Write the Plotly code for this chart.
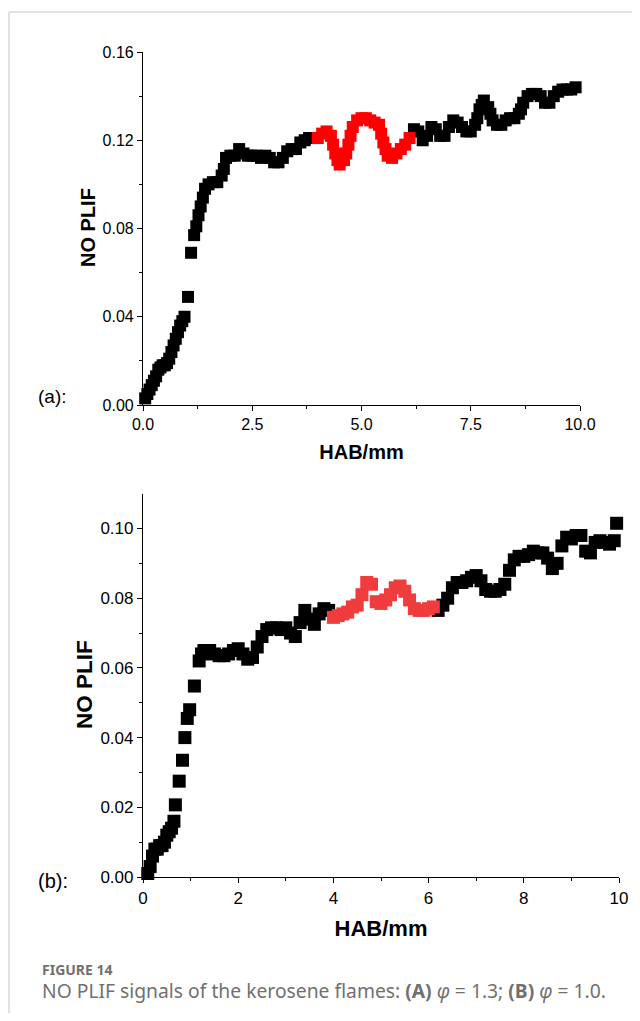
import plotly.graph_objects as go

# ---------------- data ----------------
# (a) phi = 1.3
hab_a = [0.05, 0.1, 0.15, 0.2, 0.25, 0.3, 0.35, 0.4, 0.45, 0.5, 0.55, 0.6, 0.65, 0.7, 0.75, 0.8,
         0.85, 0.9, 0.95, 1.03, 1.1, 1.17, 1.22, 1.27, 1.32, 1.37, 1.42, 1.5, 1.6, 1.7, 1.8, 1.85,
         1.9, 2.0, 2.1, 2.2, 2.3, 2.4, 2.5, 2.6, 2.7, 2.8, 2.9, 3.0, 3.1, 3.2, 3.3, 3.4, 3.5, 3.6,
         3.7, 3.8, 3.9,
         4.0, 4.1, 4.2, 4.3, 4.35, 4.4, 4.45, 4.5, 4.6, 4.65, 4.7, 4.75, 4.8, 4.9, 5.0, 5.1, 5.2,
         5.3, 5.4, 5.45, 5.5, 5.55, 5.6, 5.7, 5.8, 5.9, 6.0, 6.1,
         6.2, 6.3, 6.4, 6.5, 6.6, 6.7, 6.8, 6.9, 7.0, 7.1, 7.2, 7.3, 7.4, 7.5, 7.6, 7.65, 7.7,
         7.75, 7.8, 7.9, 7.95, 8.0, 8.1, 8.2, 8.3, 8.4, 8.5, 8.6, 8.65, 8.7, 8.8, 8.9, 9.0, 9.1,
         9.2, 9.3, 9.4, 9.5, 9.6, 9.7, 9.8, 9.9]
noplif_a = [0.003, 0.005, 0.007, 0.009, 0.011, 0.013, 0.016, 0.017, 0.018, 0.018, 0.019, 0.021,
            0.024, 0.027, 0.030, 0.033, 0.036, 0.038, 0.040, 0.049, 0.069, 0.077, 0.081, 0.086,
            0.090, 0.094, 0.098, 0.100, 0.101, 0.101, 0.104, 0.107, 0.112, 0.113, 0.113, 0.116,
            0.114, 0.113, 0.113, 0.113, 0.112, 0.113, 0.112, 0.110, 0.110, 0.112, 0.115, 0.116,
            0.116, 0.119, 0.120, 0.121, 0.121,
            0.121, 0.123, 0.124, 0.122, 0.118, 0.114, 0.111, 0.109, 0.111, 0.114, 0.118, 0.122,
            0.126, 0.129, 0.130, 0.130, 0.129, 0.128, 0.127, 0.123, 0.119, 0.116, 0.113, 0.112,
            0.114, 0.116, 0.118, 0.121,
            0.125, 0.124, 0.120, 0.122, 0.126, 0.125, 0.122, 0.122, 0.126, 0.129, 0.128, 0.126,
            0.124, 0.124, 0.127, 0.130, 0.134, 0.136, 0.138, 0.135, 0.132, 0.129, 0.127, 0.127,
            0.129, 0.130, 0.130, 0.132, 0.134, 0.137, 0.140, 0.141, 0.141, 0.140, 0.137, 0.137,
            0.140, 0.142, 0.143, 0.143, 0.143, 0.144]

# (b) phi = 1.0
hab_b = [0.1, 0.15, 0.2, 0.25, 0.3, 0.35, 0.4, 0.45, 0.5, 0.55, 0.6, 0.65, 0.68, 0.76, 0.83,
         0.88, 0.93, 0.98, 1.08, 1.18, 1.23, 1.28, 1.35, 1.4, 1.5, 1.6, 1.7, 1.8, 1.9, 2.0, 2.1,
         2.2, 2.3, 2.4, 2.5, 2.6, 2.7, 2.8, 2.9, 3.0, 3.1, 3.2, 3.3, 3.4, 3.5, 3.6, 3.7, 3.8, 3.9,
         4.0, 4.1, 4.2, 4.3, 4.4, 4.5, 4.6, 4.7, 4.8, 4.9, 5.0, 5.1, 5.2, 5.3, 5.4, 5.5, 5.6, 5.7,
         5.8, 5.9, 6.0, 6.1,
         6.2, 6.3, 6.4, 6.5, 6.6, 6.7, 6.8, 6.9, 7.0, 7.1, 7.2, 7.3, 7.4, 7.5, 7.6, 7.7, 7.8, 7.9,
         8.0, 8.1, 8.2, 8.3, 8.4, 8.5, 8.6, 8.7, 8.8, 8.9, 9.0, 9.1, 9.2, 9.3, 9.4, 9.5, 9.6, 9.7,
         9.8, 9.9, 9.95]
noplif_b = [0.001, 0.003, 0.006, 0.008, 0.008, 0.009, 0.009, 0.010, 0.012, 0.013, 0.014, 0.016,
            0.0207, 0.0275, 0.0335, 0.040, 0.0455, 0.048, 0.0548, 0.062, 0.064, 0.065, 0.065,
            0.065, 0.064, 0.0635, 0.0635, 0.064, 0.065, 0.0655, 0.064, 0.0625, 0.063, 0.066,
            0.069, 0.071, 0.0715, 0.0715, 0.071, 0.0715, 0.070, 0.069, 0.073, 0.0765, 0.074,
            0.0725, 0.0755, 0.077, 0.0765,
            0.0745, 0.075, 0.0755, 0.076, 0.0775, 0.078, 0.081, 0.0845, 0.084, 0.079, 0.0785,
            0.0795, 0.081, 0.083, 0.0835, 0.082, 0.0795, 0.077, 0.0765, 0.0765, 0.077, 0.0775,
            0.0765, 0.078, 0.080, 0.083, 0.0845, 0.0845, 0.085, 0.086, 0.0865, 0.085, 0.0825,
            0.082, 0.082, 0.0825, 0.084, 0.088, 0.091, 0.092, 0.092, 0.0925, 0.0935, 0.093,
            0.093, 0.0915, 0.0885, 0.090, 0.095, 0.0975, 0.097, 0.098, 0.098, 0.0935, 0.093,
            0.096, 0.0965, 0.096, 0.0955, 0.0965, 0.1015]

red_range = [3.95, 6.15]   # HAB window highlighted in red

# ---------------- figure ----------------
OFF = 8                      # default page margin of the html body
W, H = 640 - 2 * OFF, 1021 - 2 * OFF
M = 10                       # plotly margin on every side
IW, IH = W - 2 * M, H - 2 * M
FONT = "Liberation Sans, Arial, sans-serif"


def split(xs, ys):
    lo, hi = red_range
    b1 = [(x, y) for x, y in zip(xs, ys) if x < lo]
    r = [(x, y) for x, y in zip(xs, ys) if lo <= x <= hi]
    b2 = [(x, y) for x, y in zip(xs, ys) if x > hi]
    return b1, r, b2


fig = go.Figure()


def add_series(xs, ys, xa, ya, red_color, msize):
    b1, r, b2 = split(xs, ys)
    for pts, col in ((b1, "black"), (b2, "black"), (r, red_color)):
        fig.add_trace(go.Scatter(
            x=[p[0] for p in pts], y=[p[1] for p in pts], xaxis=xa, yaxis=ya,
            mode="markers", cliponaxis=False, showlegend=False, hoverinfo="x+y",
            marker=dict(symbol="square", size=msize, color=col, line=dict(width=0))))


add_series(hab_a, noplif_a, "x", "y", "#ff0000", 12)
add_series(hab_b, noplif_b, "x2", "y2", "#f03c3c", 13)


def px_x(p):            # page pixel -> paper fraction
    return (p - OFF - M) / IW


def px_y(p):
    return 1 - (p - OFF - M) / IH


axis_common = dict(showline=True, linecolor="black", linewidth=1.2, ticks="outside",
                   ticklen=5, tickwidth=1.2, tickcolor="black", showgrid=False,
                   zeroline=False, mirror=False, automargin=False)

fig.update_layout(
    width=W, height=H, margin=dict(l=M, r=M, t=M, b=M, autoexpand=False),
    paper_bgcolor="white", plot_bgcolor="white", showlegend=False,
    font=dict(family=FONT, color="black"),
    xaxis=dict(domain=[px_x(143), px_x(580)], range=[0, 10], anchor="y",
               tickmode="linear", tick0=0, dtick=2.5, tickformat=".1f",
               minor=dict(ticks="outside", ticklen=3, tickcolor="black", dtick=1.25, tick0=0),
               tickfont=dict(size=16, family=FONT),
               title=dict(text="<b>HAB/mm</b>", font=dict(size=20, family=FONT), standoff=12),
               **axis_common),
    yaxis=dict(domain=[px_y(405), px_y(52)], range=[0, 0.16], anchor="x",
               tickmode="linear", tick0=0, dtick=0.04, tickformat=".2f",
               minor=dict(ticks="outside", ticklen=3, tickcolor="black", dtick=0.02, tick0=0),
               tickfont=dict(size=16, family=FONT), **axis_common),
    xaxis2=dict(domain=[px_x(143), px_x(619)], range=[0, 10], anchor="y2",
                tickmode="linear", tick0=0, dtick=2, tickformat="d",
                minor=dict(ticks="outside", ticklen=3, tickcolor="black", dtick=1, tick0=0),
                tickfont=dict(size=17, family=FONT),
                title=dict(text="<b>HAB/mm</b>", font=dict(size=22, family=FONT), standoff=14),
                **axis_common),
    yaxis2=dict(domain=[px_y(877), px_y(494)], range=[0, 0.1099], anchor="x2",
                tickmode="linear", tick0=0, dtick=0.02, tickformat=".2f",
                minor=dict(ticks="outside", ticklen=3, tickcolor="black", dtick=0.02, tick0=0.01),
                tickfont=dict(size=17, family=FONT), **axis_common),
)

# y-axis titles
fig.add_annotation(text="<b>NO PLIF</b>", xref="paper", yref="paper", x=px_x(88), y=px_y(228),
                   textangle=-90, xanchor="center", yanchor="middle", showarrow=False,
                   font=dict(size=20, family=FONT, color="black"))
fig.add_annotation(text="<b>NO PLIF</b>", xref="paper", yref="paper", x=px_x(84), y=px_y(685),
                   textangle=-90, xanchor="center", yanchor="middle", showarrow=False,
                   font=dict(size=22.5, family=FONT, color="black"))

# page frame (light grey rule at top and left)
fig.add_shape(type="line", xref="paper", yref="paper", x0=px_x(9), x1=px_x(632), y0=px_y(12),
              y1=px_y(12), line=dict(color="#d9d9d9", width=1.5))
fig.add_shape(type="line", xref="paper", yref="paper", x0=px_x(9), x1=px_x(9), y0=px_y(1013),
              y1=px_y(12), line=dict(color="#d9d9d9", width=1.5))

# panel labels
fig.add_annotation(text="(a):", xref="paper", yref="paper", x=px_x(36), y=px_y(396),
                   xanchor="left", yanchor="middle", showarrow=False,
                   font=dict(size=19, family=FONT, color="black"))
fig.add_annotation(text="(b):", xref="paper", yref="paper", x=px_x(36), y=px_y(881),
                   xanchor="left", yanchor="middle", showarrow=False,
                   font=dict(size=20, family=FONT, color="black"))

# caption
CAP = "Noto Sans, Lato, sans-serif"
fig.add_annotation(text="<b>FIGURE 14</b>", xref="paper", yref="paper", x=px_x(40), y=px_y(969),
                   xanchor="left", yanchor="middle", showarrow=False,
                   font=dict(size=14, family=CAP, color="#707070"))
fig.add_annotation(text="NO PLIF signals of the kerosene flames: <b>(A)</b> <i>φ</i> = 1.3; <b>(B)</b> <i>φ</i> = 1.0.",
                   xref="paper", yref="paper", x=px_x(40), y=px_y(990),
                   xanchor="left", yanchor="middle", showarrow=False,
                   font=dict(size=19.3, family=CAP, color="#707070"))

fig.write_html("out.html")
